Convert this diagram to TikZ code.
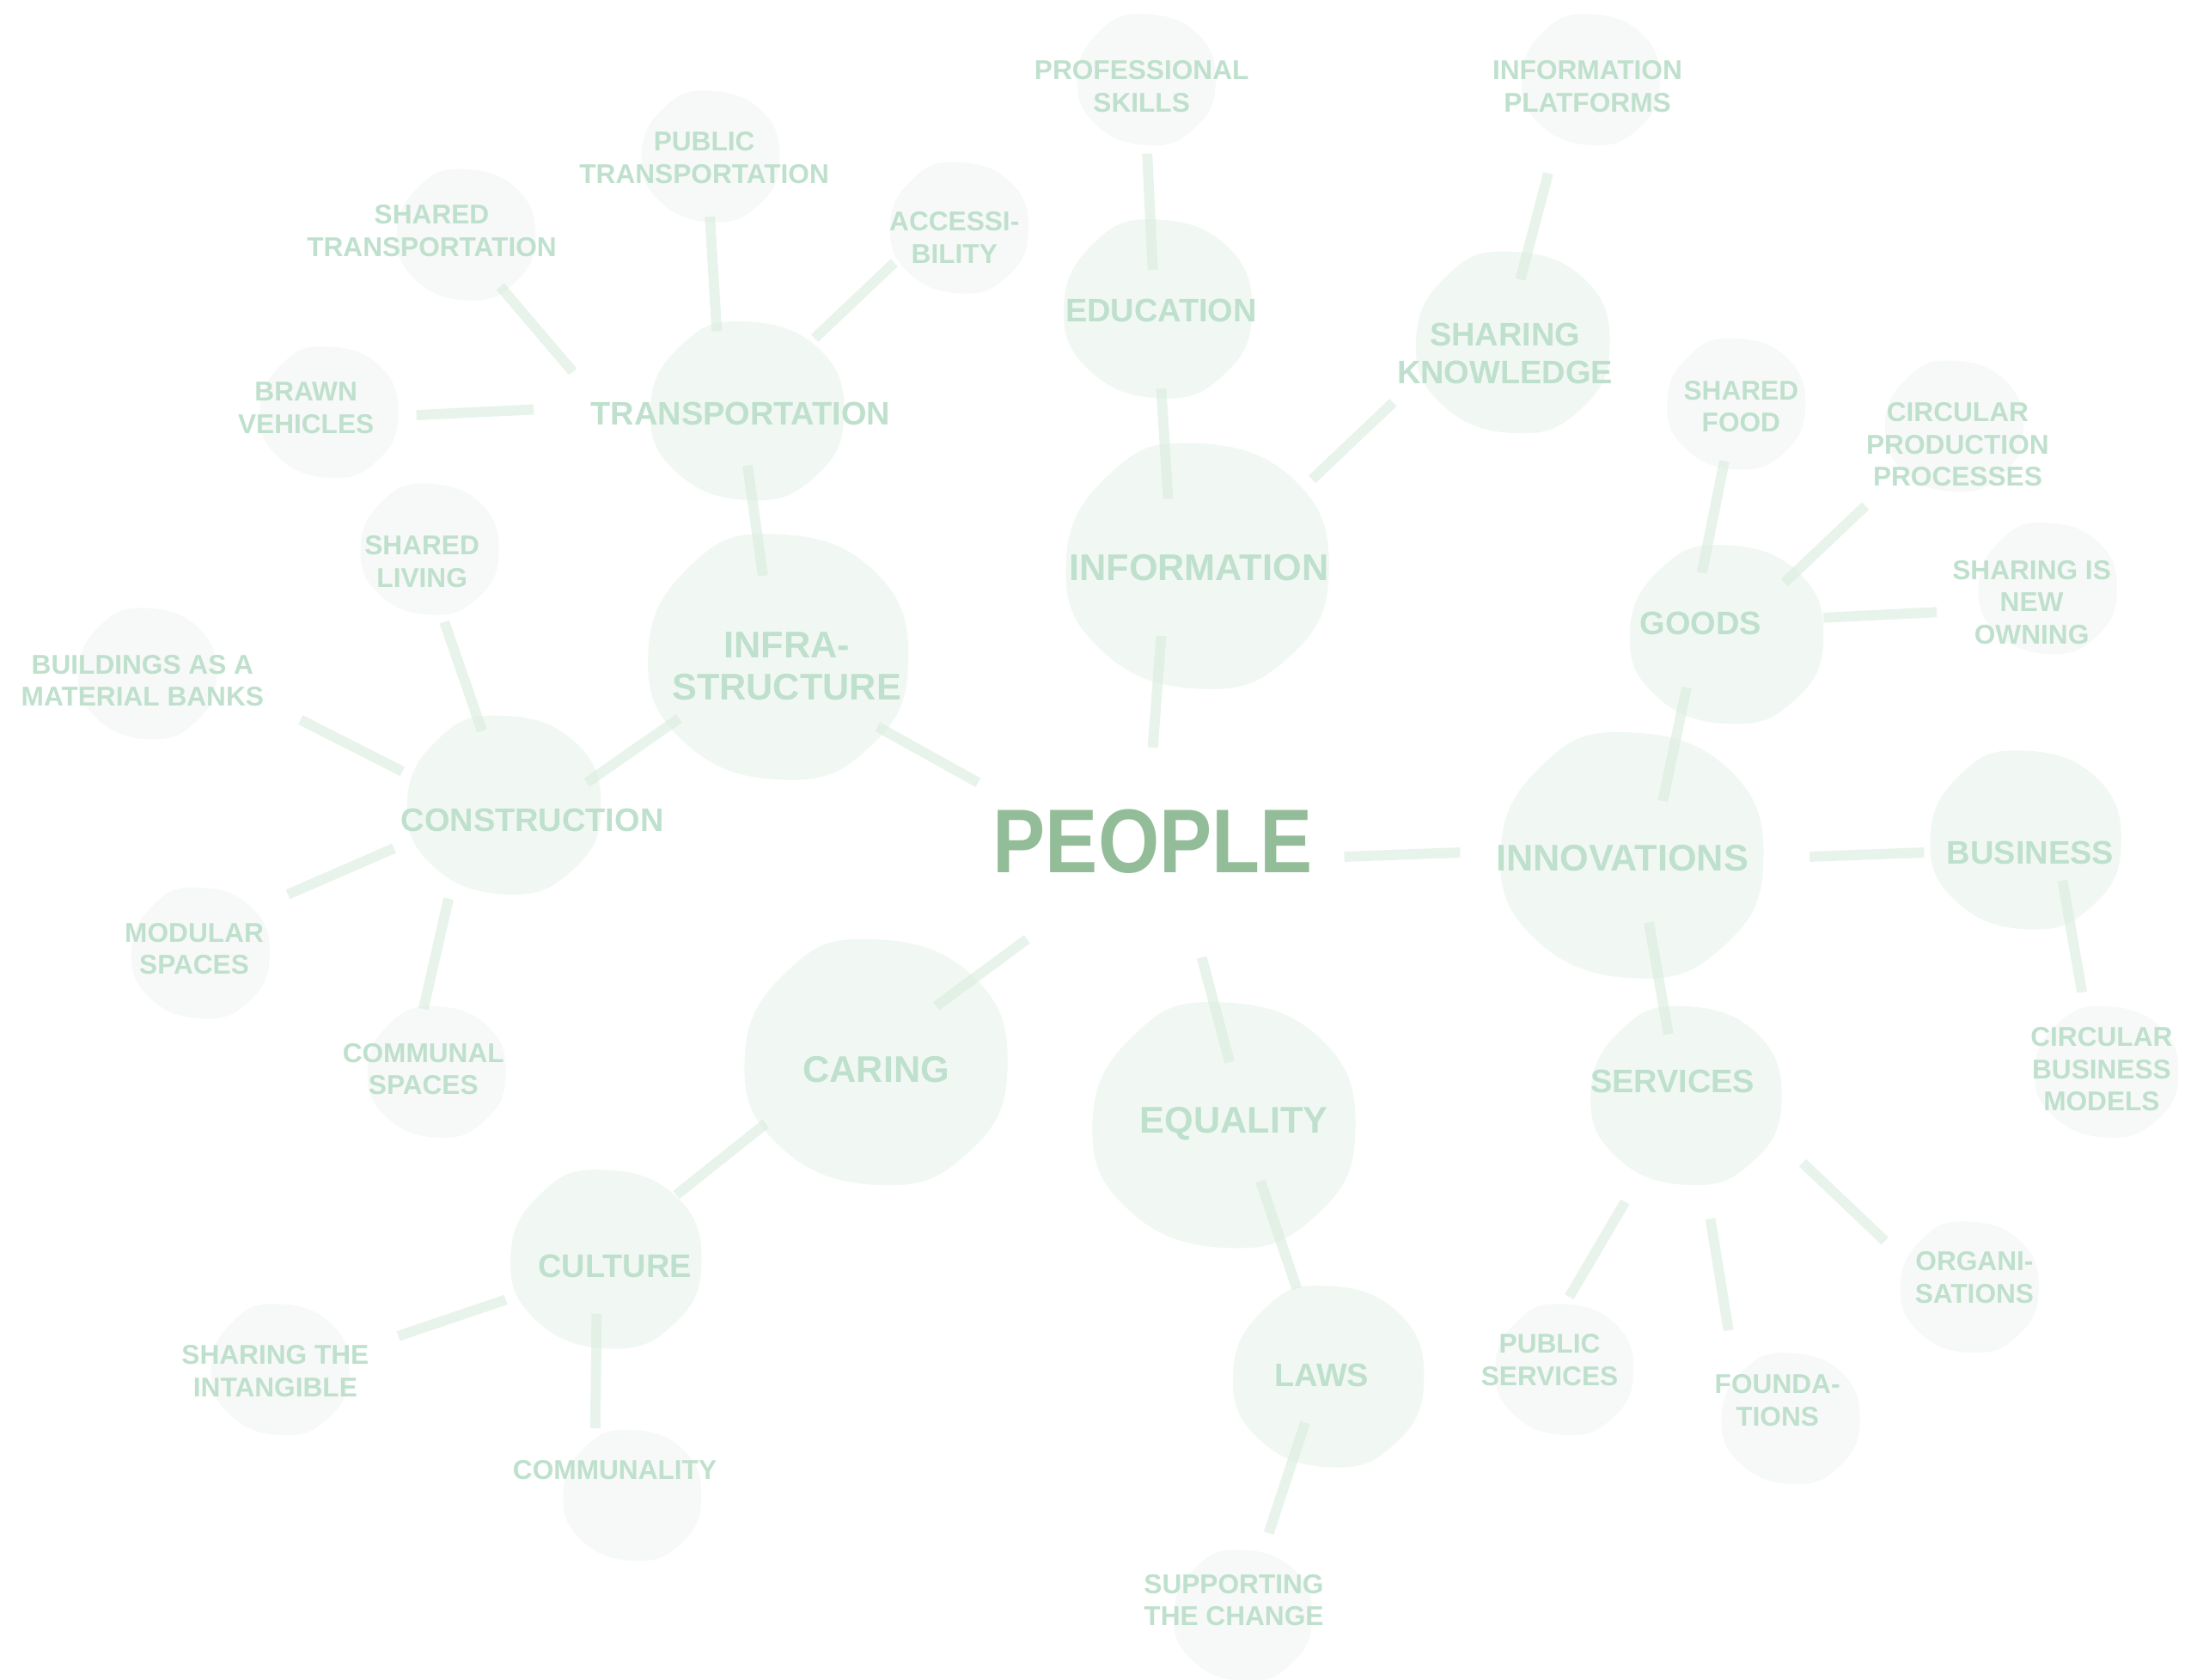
\documentclass[tikz,border=0pt]{standalone}
\usepackage{fontspec}
\setmainfont{Liberation Sans}
\newfontfamily\hubfont{Liberation Sans}[FakeStretch=0.87]
\usepackage{tikz}
\usetikzlibrary{calc}
\usepackage{xcolor}

\definecolor{hubverde}{HTML}{93BD98}
\definecolor{textoverde}{HTML}{BEE0CC}
\definecolor{manchagrande}{HTML}{F1F8F3}
\definecolor{manchachica}{HTML}{F7F9F8}
\definecolor{trazo}{HTML}{D8ECDD}

% mancha irregular: estilo, centro, radio x, radio y
\newcommand{\blob}[4]{%
  \fill[#1] plot[smooth cycle, tension=0.8] coordinates {
    ($(#2)+(1.00*#3,0.06*#4)$) ($(#2)+(0.70*#3,0.74*#4)$)
    ($(#2)+(0.04*#3,1.00*#4)$) ($(#2)+(-0.72*#3,0.68*#4)$)
    ($(#2)+(-0.98*#3,-0.04*#4)$) ($(#2)+(-0.66*#3,-0.74*#4)$)
    ($(#2)+(-0.04*#3,-1.00*#4)$) ($(#2)+(0.74*#3,-0.70*#4)$)};}

\tikzset{
  hub/.style={font=\hubfont\bfseries\fontsize{30}{34}\selectfont, text=hubverde, inner sep=0pt},
  tema/.style={font=\bfseries\fontsize{12.3}{13.9}\selectfont, text=textoverde, align=center, inner sep=0pt},
  subtema/.style={font=\bfseries\fontsize{10.8}{12.5}\selectfont, text=textoverde, align=center, inner sep=0pt},
  hoja/.style={font=\bfseries\fontsize{9}{10.7}\selectfont, text=textoverde, align=center, inner sep=0pt},
  enlace/.style={draw=trazo, line width=3.4pt, opacity=0.6},
}

\begin{document}
\begin{tikzpicture}[x=0.0162628cm, y=-0.0162628cm]
\useasboundingbox (0,0) rectangle (1568,1202);

% Manchas grandes
\blob{manchagrande}{556,470}{94}{88}
\blob{manchagrande}{856,405}{95}{88}
\blob{manchagrande}{1167,612}{95}{88}
\blob{manchagrande}{626,760}{95}{88}
\blob{manchagrande}{875,805}{95}{88}
% Manchas medianas
\blob{manchagrande}{534,294}{70}{64}
\blob{manchagrande}{828,221}{68}{64}
\blob{manchagrande}{1082,245}{70}{65}
\blob{manchagrande}{360,576}{70}{64}
\blob{manchagrande}{1235,454}{70}{64}
\blob{manchagrande}{1449,601}{69}{64}
\blob{manchagrande}{1206,784}{69}{64}
\blob{manchagrande}{950,985}{69}{65}
\blob{manchagrande}{433,901}{69}{64}
% Manchas chicas
\blob{manchachica}{820,57}{50}{47}
\blob{manchachica}{1138,57}{50}{47}
\blob{manchachica}{508,112}{50}{47}
\blob{manchachica}{333,168}{50}{47}
\blob{manchachica}{686,163}{50}{47}
\blob{manchachica}{235,295}{50}{47}
\blob{manchachica}{307,393}{50}{47}
\blob{manchachica}{105,482}{50}{47}
\blob{manchachica}{143,682}{50}{47}
\blob{manchachica}{312,767}{50}{47}
\blob{manchachica}{200,980}{50}{47}
\blob{manchachica}{452,1070}{50}{47}
\blob{manchachica}{889,1156}{50}{47}
\blob{manchachica}{1119,980}{50}{47}
\blob{manchachica}{1281,1015}{50}{47}
\blob{manchachica}{1409,921}{50}{47}
\blob{manchachica}{1507,767}{52}{47}
\blob{manchachica}{1465,421}{50}{47}
\blob{manchachica}{1398,305}{50}{47}
\blob{manchachica}{1242,289}{50}{47}

% Nodos centrales
\node[hub] (people) at (825,602) {PEOPLE};
\node[tema] (infra) at (563,477) {INFRA-\\STRUCTURE};
\node[tema] (info) at (858,406) {INFORMATION};
\node[tema] (innov) at (1161,614) {INNOVATIONS};
\node[tema] (caring) at (627,765) {CARING};
\node[tema] (equality) at (883,804) {EQUALITY};
\node[subtema] (transp) at (530,296) {TRANSPORTATION};
\node[subtema] (constr) at (381,587) {CONSTRUCTION};
\node[subtema] (edu) at (831,222) {EDUCATION};
\node[subtema] (shk) at (1077,253) {SHARING\\KNOWLEDGE};
\node[subtema] (goods) at (1217,446) {GOODS};
\node[subtema] (business) at (1453,610) {BUSINESS};
\node[subtema] (services) at (1197,774) {SERVICES};
\node[subtema] (culture) at (440,906) {CULTURE};
\node[subtema] (laws) at (946,984) {LAWS};
% Hojas
\node[hoja] (profsk) at (817,62) {PROFESSIONAL\\SKILLS};
\node[hoja] (infplat) at (1136,62) {INFORMATION\\PLATFORMS};
\node[hoja] (pubtr) at (504,113) {PUBLIC\\TRANSPORTATION};
\node[hoja] (shtr) at (309,165) {SHARED\\TRANSPORTATION};
\node[hoja] (access) at (683,170) {ACCESSI-\\BILITY};
\node[hoja] (brawn) at (219,292) {BRAWN\\VEHICLES};
\node[hoja] (shliv) at (302,402) {SHARED\\LIVING};
\node[hoja] (bldg) at (102,487) {BUILDINGS AS A\\MATERIAL BANKS};
\node[hoja] (modular) at (139,679) {MODULAR\\SPACES};
\node[hoja] (communal) at (303,765) {COMMUNAL\\SPACES};
\node[hoja] (intang) at (197,981) {SHARING THE\\INTANGIBLE};
\node[hoja] (communality) at (440,1052) {COMMUNALITY};
\node[hoja] (supporting) at (883,1145) {SUPPORTING\\THE CHANGE};
\node[hoja] (pubserv) at (1109,973) {PUBLIC\\SERVICES};
\node[hoja] (found) at (1272,1002) {FOUNDA-\\TIONS};
\node[hoja] (organ) at (1413,914) {ORGANI-\\SATIONS};
\node[hoja] (circbus) at (1504,765) {CIRCULAR\\BUSINESS\\MODELS};
\node[hoja] (sharenew) at (1454,431) {SHARING IS\\NEW\\OWNING};
\node[hoja] (circprod) at (1401,318) {CIRCULAR\\PRODUCTION\\PROCESSES};
\node[hoja] (shfood) at (1246,291) {SHARED\\FOOD};

% Trazos
\draw[enlace] ($(people)+(-125,-42)$) -- ($(infra)+(65,43)$);
\draw[enlace] ($(people)+(0,-67)$) -- ($(info)+(-27,49)$);
\draw[enlace] ($(people)+(137,11)$) -- ($(innov)+(-116,-4)$);
\draw[enlace] ($(people)+(-90,70)$) -- ($(caring)+(43,-45)$);
\draw[enlace] ($(people)+(35,83)$) -- ($(equality)+(-3,-44)$);
\draw[enlace] ($(infra)+(-17,-65)$) -- ($(transp)+(5,37)$);
\draw[enlace] ($(infra)+(-77,37)$) -- ($(constr)+(39,-27)$);
\draw[enlace] ($(info)+(-22,-49)$) -- ($(edu)+(0,56)$);
\draw[enlace] ($(info)+(81,-63)$) -- ($(shk)+(-80,35)$);
\draw[enlace] ($(edu)+(-6,-29)$) -- ($(profsk)+(4,48)$);
\draw[enlace] ($(shk)+(11,-53)$) -- ($(infplat)+(-28,62)$);
\draw[enlace] ($(transp)+(-17,-59)$) -- ($(pubtr)+(4,42)$);
\draw[enlace] ($(transp)+(-120,-30)$) -- ($(shtr)+(49,40)$);
\draw[enlace] ($(transp)+(53,-54)$) -- ($(access)+(-43,18)$);
\draw[enlace] ($(transp)+(-148,-3)$) -- ($(brawn)+(79,5)$);
\draw[enlace] ($(constr)+(-36,-64)$) -- ($(shliv)+(16,43)$);
\draw[enlace] ($(constr)+(-93,-35)$) -- ($(bldg)+(113,28)$);
\draw[enlace] ($(constr)+(-99,20)$) -- ($(modular)+(67,-39)$);
\draw[enlace] ($(constr)+(-60,56)$) -- ($(communal)+(0,-43)$);
\draw[enlace] ($(caring)+(-79,39)$) -- ($(culture)+(44,-51)$);
\draw[enlace] ($(culture)+(-78,24)$) -- ($(intang)+(88,-25)$);
\draw[enlace] ($(culture)+(-13,34)$) -- ($(communality)+(-14,-30)$);
\draw[enlace] ($(equality)+(19,41)$) -- ($(laws)+(-18,-62)$);
\draw[enlace] ($(laws)+(-12,34)$) -- ($(supporting)+(25,-48)$);
\draw[enlace] ($(innov)+(29,-41)$) -- ($(goods)+(-10,46)$);
\draw[enlace] ($(innov)+(134,-1)$) -- ($(business)+(-76,0)$);
\draw[enlace] ($(innov)+(19,46)$) -- ($(services)+(-3,-34)$);
\draw[enlace] ($(goods)+(1,-36)$) -- ($(shfood)+(-12,39)$);
\draw[enlace] ($(goods)+(60,-29)$) -- ($(circprod)+(-66,44)$);
\draw[enlace] ($(goods)+(88,-4)$) -- ($(sharenew)+(-68,7)$);
\draw[enlace] ($(business)+(23,20)$) -- ($(circbus)+(-14,-55)$);
\draw[enlace] ($(services)+(-34,86)$) -- ($(pubserv)+(14,-45)$);
\draw[enlace] ($(services)+(27,98)$) -- ($(found)+(-35,-50)$);
\draw[enlace] ($(services)+(93,58)$) -- ($(organ)+(-64,-26)$);
\end{tikzpicture}
\end{document}
